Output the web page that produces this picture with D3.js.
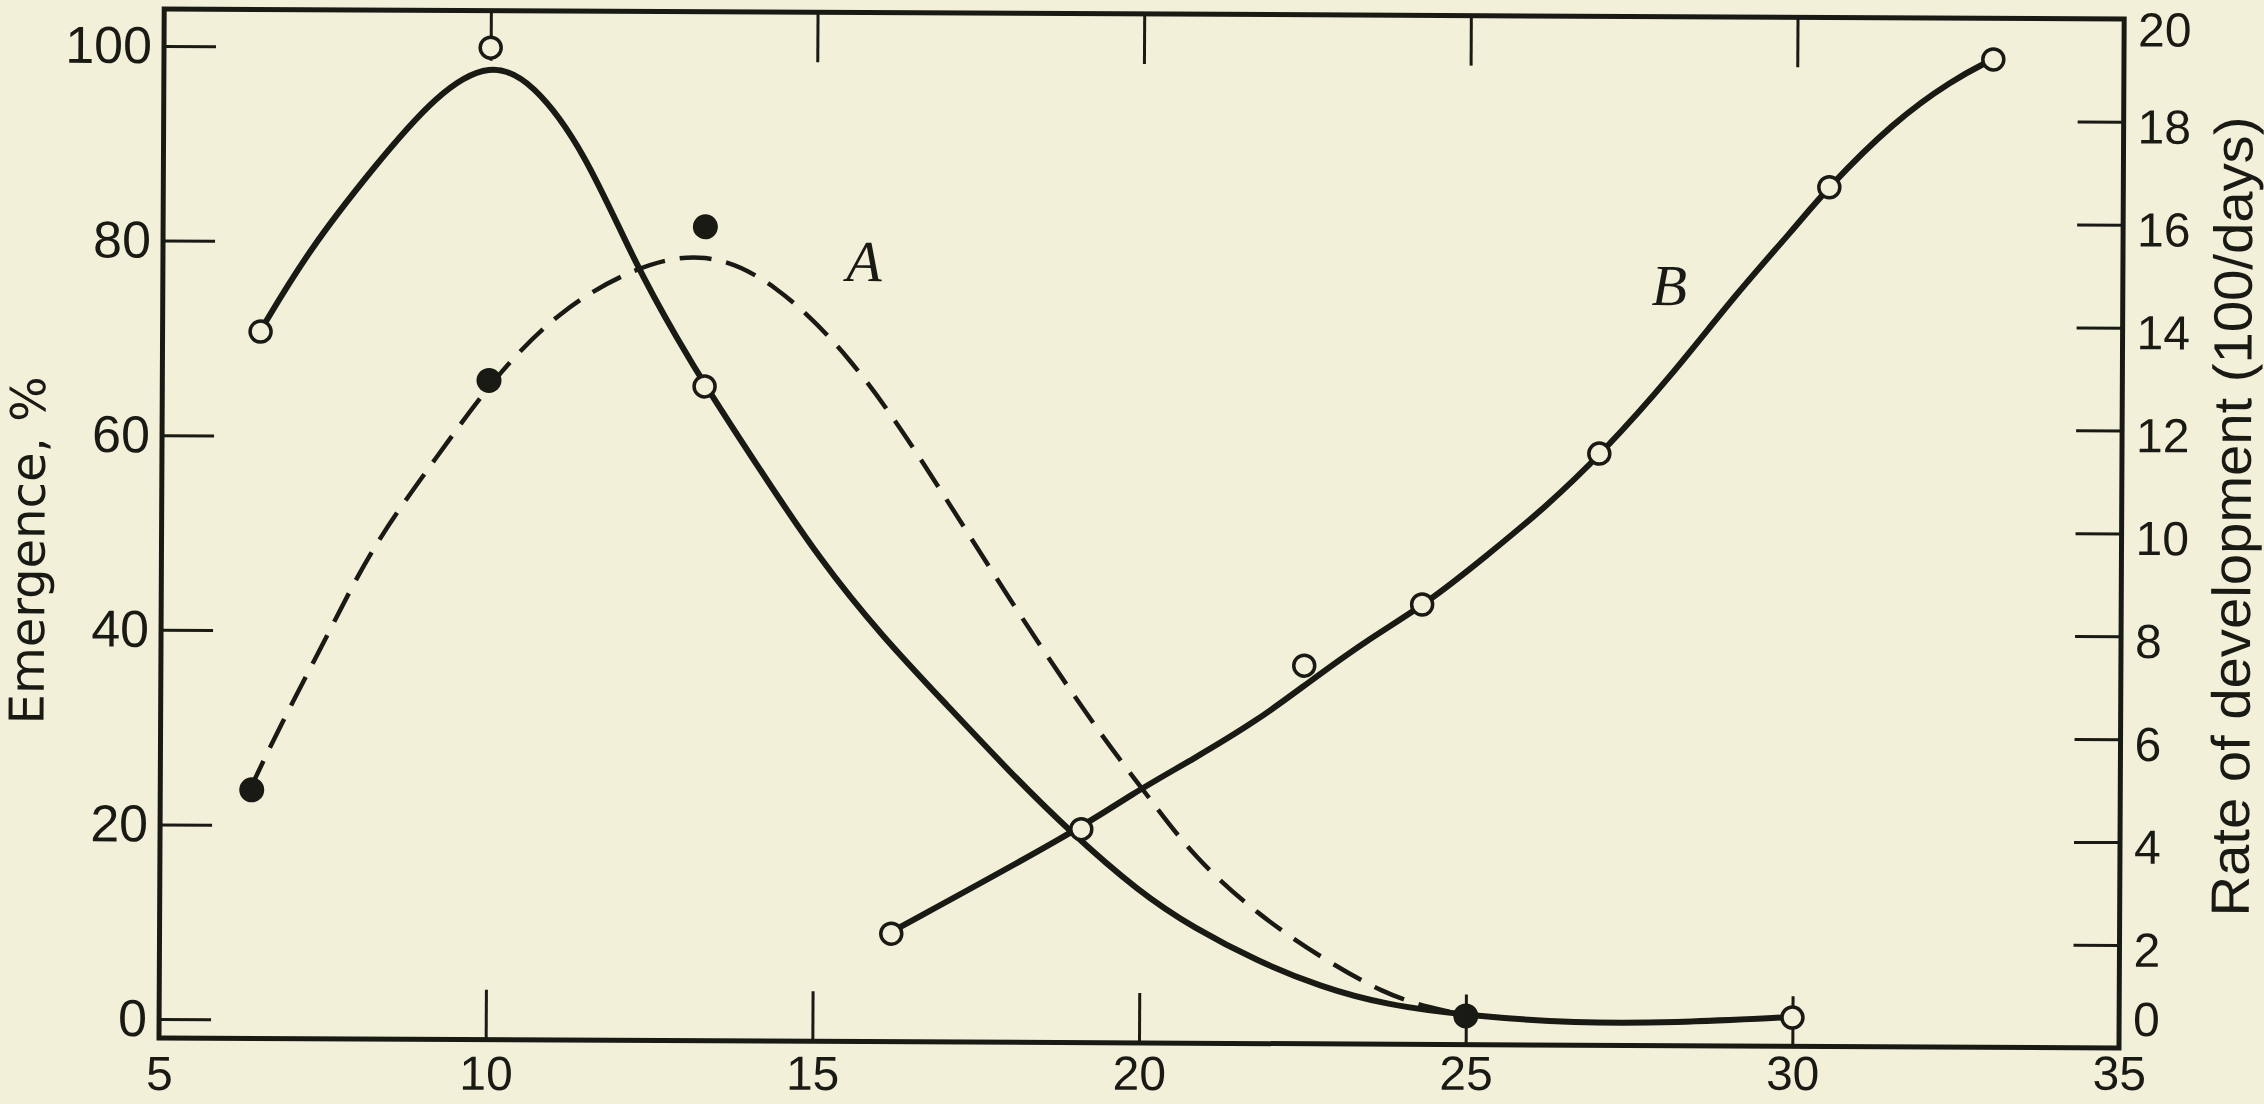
<!DOCTYPE html>
<html>
<head>
<meta charset="utf-8">
<script src="https://cdn.jsdelivr.net/npm/d3@7"></script>
<style>
  html, body { margin: 0; padding: 0; background: #f3f0da; }
  svg { display: block; }
</style>
</head>
<body>
<svg id="chart" width="2264" height="1104"></svg>
<script>
// ---------------- DATA ----------------
const xTickValues = [5, 10, 15, 20, 25, 30, 35];
const xInnerTicks = [10, 15, 20, 25, 30];
const leftTickValues = [0, 20, 40, 60, 80, 100];
const rightTickValues = [0, 2, 4, 6, 8, 10, 12, 14, 16, 18, 20];

const leftTitle = "Emergence, %";
const rightTitle = "Rate of development (100/days)";
const labelA = "A";
const labelB = "B";
const labelAPos = [15.73, 78.2];   // temperature, emergence %
const labelBPos = [28.06, 14.77];  // temperature, rate

// Emergence, open circles (solid curve)
const openTemp = [6.5, 10, 13.3, 30];
const openEmergence = [70.7, 100, 65.3, 1.0];

// Emergence, filled dots (dashed curve A)
const filledTemp = [6.4, 10, 13.3, 25];
const filledEmergence = [23.6, 65.8, 81.7, 1.0];

// Rate of development, open circles (curve B)
const rateTemp = [16.2, 19.1, 22.5, 24.3, 27.0, 30.5, 33.0];
const rateValue = [2.1, 4.15, 7.35, 8.55, 11.5, 16.7, 19.2];

// Hand-drawn curves
const solidCurveTemp = [6.49, 7.23, 8.21, 9.18, 10.0, 10.65, 11.44, 12.23, 12.91, 13.32, 14.10, 15.08, 16.05, 17.03, 18.02, 18.90, 20.0, 20.83, 21.81, 22.78, 23.76, 25.06, 26.69, 28.16, 30.0];
const solidCurveVal  = [70.7, 79.1, 87.6, 95.3, 98.6, 96.5, 89.5, 77.8, 69.8, 65.3, 57.3, 47.5, 39.6, 32.7, 25.7, 19.9, 13.5, 9.9, 6.5, 3.9, 2.1, 1.0, 0.3, 0.4, 1.06];

const dashCurveTemp = [6.37, 6.80, 7.57, 8.24, 9.21, 10.04, 11.05, 12.23, 13.30, 14.37, 15.54, 16.52, 17.42, 18.50, 19.49, 20.10, 20.83, 21.81, 22.78, 23.76, 24.45, 25.06];
const dashCurveVal  = [23.6, 29.8, 39.8, 48.9, 57.9, 65.8, 73.0, 77.6, 79.3, 76.1, 68.4, 59.0, 49.5, 38.3, 28.8, 23.6, 17.1, 11.3, 6.9, 3.2, 1.8, 1.0];

const rateCurveTemp = [16.18, 19.08, 19.84, 20.82, 21.80, 22.54, 23.44, 24.34, 25.28, 26.17, 27.03, 28.10, 29.08, 29.95, 30.46, 31.48, 32.38, 32.97];
const rateCurveVal  = [2.12, 4.15, 4.82, 5.53, 6.29, 7.0, 7.84, 8.54, 9.50, 10.44, 11.49, 13.02, 14.62, 15.87, 16.67, 17.98, 18.80, 19.19];

// ---------------- LAYOUT ----------------
const W = 2264, H = 1104;
const BG = "#f3f0da";
const INK = "#1a1a14";
const plot = { left: 159, right: 2119, top: 9, bottom: 1038 };
const tilt = 0.29; // degrees: the scanned figure is tilted slightly clockwise
const drift = Math.sin(tilt * Math.PI / 180);
const tickFont = "'Liberation Sans', Arial, sans-serif";

const x = d3.scaleLinear().domain([5, 35]).range([plot.left, plot.right]);
const yL = d3.scaleLinear().domain([-1.95, 103.8]).range([plot.bottom, plot.top]);
const yR = d3.scaleLinear().domain([0, 20]).range([plot.bottom, plot.top]);

const svg = d3.select("#chart");
svg.append("rect").attr("width", W).attr("height", H).attr("fill", BG);

const g = svg.append("g").attr("transform", `rotate(${tilt},${plot.left},${plot.bottom})`);

function styleAxis(sel, fontSize) {
  sel.select(".domain").remove();
  sel.selectAll(".tick line").attr("stroke", INK).attr("stroke-width", 3);
  sel.selectAll(".tick text")
    .attr("fill", INK)
    .style("font-family", tickFont)
    .style("font-size", fontSize + "px");
}

// bottom axis (ticks inward)
const gx = g.append("g").attr("transform", `translate(0,${plot.bottom})`)
  .call(d3.axisBottom(x).tickValues(xTickValues).tickSize(-50).tickPadding(17).tickFormat(d3.format("d")));
styleAxis(gx, 48);
gx.selectAll(".tick").filter(d => d === 5 || d === 35).select("line").remove();
// keep the labels level on screen despite the tilt
gx.selectAll(".tick text").attr("y", d => 17.9 - (x(d) - plot.left) * drift);

// top axis ticks (no labels)
const gxt = g.append("g").attr("transform", `translate(0,${plot.top})`)
  .call(d3.axisTop(x).tickValues(xInnerTicks).tickSize(-50).tickFormat(""));
styleAxis(gxt, 48);

// left axis
const gl = g.append("g").attr("transform", `translate(${plot.left},0)`)
  .call(d3.axisLeft(yL).tickValues(leftTickValues).tickSize(-52).tickPadding(12).tickFormat(d3.format("d")));
styleAxis(gl, 52);

// right axis
const gr = g.append("g").attr("transform", `translate(${plot.right},0)`)
  .call(d3.axisRight(yR).tickValues(rightTickValues).tickSize(-46).tickPadding(14).tickFormat(d3.format("d")));
styleAxis(gr, 48);
gr.selectAll(".tick text").attr("dy", d => d === 0 ? "-0.26em" : (d === 20 ? "0.56em" : "0.44em"));
gr.selectAll(".tick").filter(d => d === 0 || d === 20).select("line").remove();

// frame
g.append("rect")
  .attr("x", plot.left).attr("y", plot.top)
  .attr("width", plot.right - plot.left).attr("height", plot.bottom - plot.top)
  .attr("fill", "none").attr("stroke", INK).attr("stroke-width", 5);

// axis titles
g.append("text")
  .attr("transform", `translate(42,551) rotate(-90)`)
  .attr("text-anchor", "middle")
  .attr("fill", INK)
  .style("font-family", "'DejaVu Sans', sans-serif")
  .style("font-size", "48px")
  .text(leftTitle);

g.append("text")
  .attr("transform", `translate(2248,506) rotate(-90)`)
  .attr("text-anchor", "middle")
  .attr("fill", INK)
  .attr("textLength", 800)
  .attr("lengthAdjust", "spacingAndGlyphs")
  .style("font-family", tickFont)
  .style("font-size", "54px")
  .text(rightTitle);

// curves
const zip = (a, b) => a.map((v, i) => [v, b[i]]);
const lineL = d3.line().x(d => x(d[0])).y(d => yL(d[1])).curve(d3.curveBasis);
const lineR = d3.line().x(d => x(d[0])).y(d => yR(d[1])).curve(d3.curveBasis);

g.append("path")
  .attr("d", lineL(zip(dashCurveTemp, dashCurveVal)))
  .attr("fill", "none").attr("stroke", INK).attr("stroke-width", 4.5)
  .attr("stroke-dasharray", "32,15");

g.append("path")
  .attr("d", lineL(zip(solidCurveTemp, solidCurveVal)))
  .attr("fill", "none").attr("stroke", INK).attr("stroke-width", 6)
  .attr("stroke-linecap", "round");

g.append("path")
  .attr("d", lineR(zip(rateCurveTemp, rateCurveVal)))
  .attr("fill", "none").attr("stroke", INK).attr("stroke-width", 6)
  .attr("stroke-linecap", "round");

// markers
g.append("g").selectAll("circle")
  .data(zip(filledTemp, filledEmergence)).join("circle")
  .attr("cx", d => x(d[0])).attr("cy", d => yL(d[1]))
  .attr("r", 12.5).attr("fill", INK);

g.append("g").selectAll("circle")
  .data(zip(openTemp, openEmergence)).join("circle")
  .attr("cx", d => x(d[0])).attr("cy", d => yL(d[1]))
  .attr("r", 10.5).attr("fill", BG).attr("stroke", INK).attr("stroke-width", 3.5);

g.append("g").selectAll("circle")
  .data(zip(rateTemp, rateValue)).join("circle")
  .attr("cx", d => x(d[0])).attr("cy", d => yR(d[1]))
  .attr("r", 10.5).attr("fill", BG).attr("stroke", INK).attr("stroke-width", 3.5);

// curve labels
g.append("text")
  .attr("x", x(labelAPos[0])).attr("y", yL(labelAPos[1]))
  .attr("text-anchor", "middle").attr("dominant-baseline", "central")
  .attr("fill", INK)
  .style("font-family", "'Liberation Serif', 'Times New Roman', serif")
  .style("font-style", "italic").style("font-size", "58px")
  .text(labelA);

g.append("text")
  .attr("x", x(labelBPos[0])).attr("y", yR(labelBPos[1]))
  .attr("text-anchor", "middle").attr("dominant-baseline", "central")
  .attr("fill", INK)
  .style("font-family", "'Liberation Serif', 'Times New Roman', serif")
  .style("font-style", "italic").style("font-size", "58px")
  .text(labelB);
</script>
</body>
</html>
